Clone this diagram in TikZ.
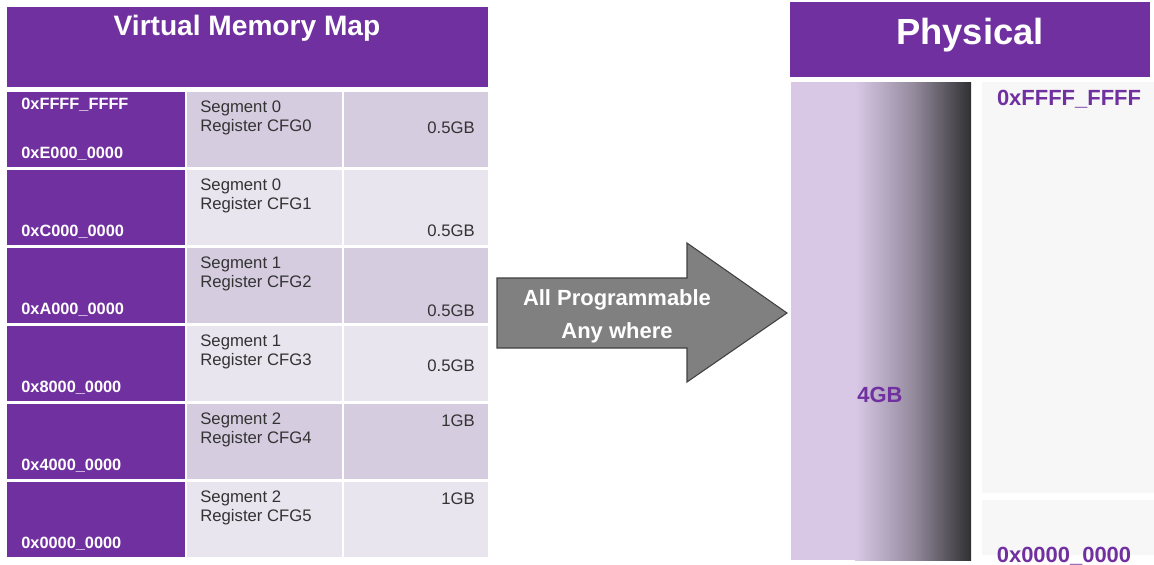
\documentclass[tikz,border=0pt]{standalone}
\usepackage{fontspec}
\setmainfont{Liberation Sans}
\definecolor{vpurple}{RGB}{112,48,160}
\definecolor{rowdark}{RGB}{213,204,224}
\definecolor{rowlight}{RGB}{232,229,238}
\definecolor{lav}{RGB}{216,200,230}
\definecolor{darkend}{RGB}{48,48,50}
\definecolor{memgray}{RGB}{247,247,247}
\definecolor{arrowgray}{RGB}{128,128,128}

\begin{document}
\begin{tikzpicture}[x=0.02cm, y=-0.02cm,
    addr/.style={text=white, font=\fontsize{9.3}{11}\selectfont\bfseries, anchor=west, inner sep=0pt},
    segtext/.style={text=black!80, font=\fontsize{9.5}{11}\selectfont, anchor=west, inner sep=0pt},
    sizetext/.style={text=black!80, font=\fontsize{9.5}{11}\selectfont, anchor=east, inner sep=0pt},
    phys/.style={text=vpurple, font=\fontsize{12.5}{14}\selectfont\bfseries, inner sep=0pt}]
  \useasboundingbox (0,0) rectangle (1154,565);
  % virtual side
  \fill[vpurple] (7,7) rectangle (488,87);
  \node[text=white, font=\fontsize{16}{18}\selectfont\bfseries] (vtitle) at (247,28) {Virtual Memory Map};
  \foreach \r/\addr/\seg/\sz/\szy/\cellcol in {0/E000/0/0.5GB/34/rowdark, 1/C000/0/0.5GB/59/rowlight,
      2/A000/1/0.5GB/61/rowdark, 3/8000/1/0.5GB/38/rowlight, 4/4000/2/1GB/15/rowdark, 5/0000/2/1GB/15/rowlight}{
    \pgfmathsetmacro{\rowtop}{92+78*\r}
    \fill[vpurple] (7,\rowtop) rectangle (185,\rowtop+75);
    \fill[\cellcol] (187,\rowtop) rectangle (342,\rowtop+75);
    \fill[\cellcol] (344,\rowtop) rectangle (488,\rowtop+75);
    \node[addr] (addr\r) at (21,\rowtop+62) {0x\addr\_0000};
    \node[segtext] (seg\r) at (200,\rowtop+16) {Segment \seg};
    \node[segtext] (cfg\r) at (200,\rowtop+35) {Register CFG\r};
    \node[sizetext] (size\r) at (475,\rowtop+\szy+2) {\sz};
  }
  \node[addr] (addrtop) at (21,105) {0xFFFF\_FFFF};
  % mapping arrow
  \draw[fill=arrowgray, draw=black!75, line width=0.6pt] (497,278) -- (687,278) -- (687,243) -- (787,313)
    -- (687,382) -- (687,348) -- (497,348) -- cycle;
  \node[text=white, align=center, font=\fontsize{12.5}{18.7}\selectfont\bfseries] (maptext) at (617,316)
    {All Programmable\\Any where};
  % physical side
  \fill[vpurple] (790,2) rectangle (1150,77);
  \node[text=white, font=\fontsize{20.7}{24}\selectfont\bfseries] (ptitle) at (970,35) {Physical};
  \fill[lav] (791,82) rectangle (855,560);
  \shade[left color=lav, right color=darkend, middle color=lav!60!darkend] (855,82) rectangle (971,560);
  \fill[memgray] (982,82) rectangle (1154,493);
  \fill[memgray] (982,500) rectangle (1154,555);
  \node[phys] (size4gb) at (880,395) {4GB};
  \node[phys] (ptop) at (1069,99) {0xFFFF\_FFFF};
  \node[phys] (pbottom) at (1064,556) {0x0000\_0000};
\end{tikzpicture}
\end{document}
